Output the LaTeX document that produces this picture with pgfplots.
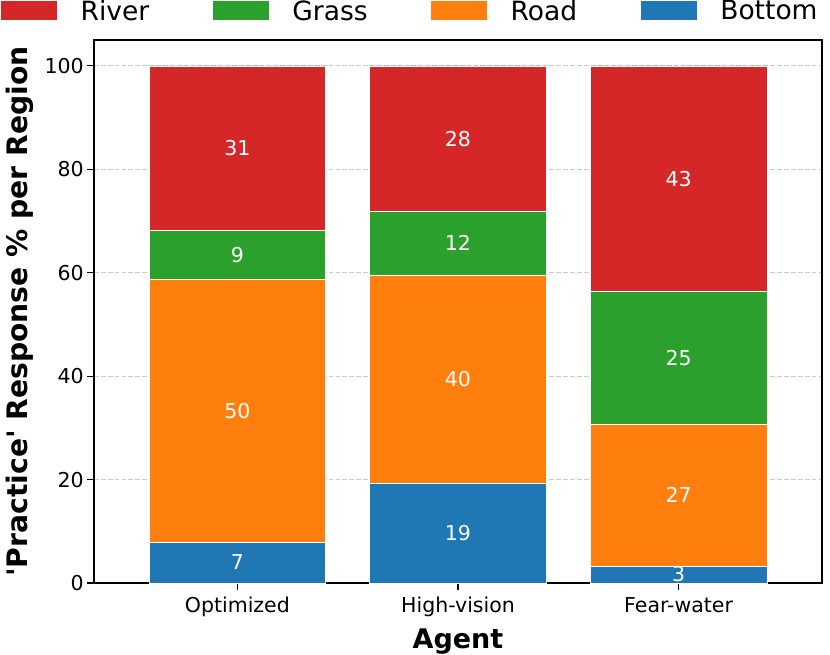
\documentclass[border=0pt]{standalone}
\usepackage{fontspec}
\setmainfont{DejaVu Sans}[Ligatures=TeXOff]
\usepackage{pgfplots}
\pgfplotsset{compat=1.18}
\usepackage{pgfplotstable}

\definecolor{cRiver}{HTML}{D62728}
\definecolor{cGrass}{HTML}{2CA02C}
\definecolor{cRoad}{HTML}{FF7F0E}
\definecolor{cBottom}{HTML}{1F77B4}
\definecolor{cGrid}{HTML}{CCCCCC}

\pgfplotstableread{
x bottom road grass river
0 7.92 50.71 9.57 31.80
1 19.31 40.28 12.22 28.19
2 3.28 27.36 25.73 43.63
}\bardata

\pgfplotstableread{
x y l
0 3.96 7
0 33.28 50
0 63.42 9
0 84.10 31
1 9.655 19
1 39.45 40
1 65.70 12
1 85.91 28
2 1.64 3
2 16.96 27
2 43.51 25
2 78.19 43
}\labdata

\pgfplotsset{
  common/.style={
    at={(0,0)}, anchor=south west,
    scale only axis, width=728bp, height=543bp,
    xmin=-0.65, xmax=2.65, ymin=0, ymax=105,
  }
}

\begin{document}
\begin{tikzpicture}
\useasboundingbox (-94bp,-72bp) rectangle (736bp,583bp);
\begin{axis}[
  common,
  ybar stacked, bar width=0.8,
  xtick={0,1,2}, xticklabels={Optimized,High-vision,Fear-water},
  ytick={0,20,40,60,80,100},
  tick pos=left, tick align=outside,
  major tick length=6.7bp,
  tick style={black, line width=1.1bp},
  axis line style={black, line width=1.3bp},
  ymajorgrids,
  grid style={cGrid, line width=1bp, dash pattern=on 4.8bp off 2.1bp},
  tick label style={font=\fontsize{20.5bp}{24bp}\selectfont},
  xticklabel style={yshift=-4bp},
  /pgf/number format/assume math mode=true,
  xlabel={Agent},
  ylabel={'Practice' Response \% per Region},
  xlabel style={font=\bfseries\fontsize{27bp}{32bp}\selectfont,
    at={(axis description cs:0.5,-0.1197)}, anchor=base},
  ylabel style={font=\bfseries\fontsize{28.2bp}{33bp}\selectfont,
    at={(axis description cs:-0.0920,0.5)}, anchor=base},
  reverse legend,
  legend columns=4,
  legend image code/.code={\fill[#1] (0bp,-9.5bp) rectangle (57bp,10.5bp);},
  legend style={draw=none, fill=none, inner sep=0pt, outer sep=0pt,
    at={(-0.12912,1.0733)}, anchor=north west,
    nodes={inner sep=0pt, outer sep=0pt},
    font=\fontsize{26.5bp}{30bp}\selectfont,
    /tikz/every odd column/.append style={column sep=23bp},
    /tikz/every even column/.append style={column sep=62.5bp},
  },
]
\addplot[fill=cBottom, draw=white, line width=0.6bp] table[x=x, y=bottom] {\bardata};
\addplot[fill=cRoad, draw=white, line width=0.6bp] table[x=x, y=road] {\bardata};
\addplot[fill=cGrass, draw=white, line width=0.6bp] table[x=x, y=grass] {\bardata};
\addplot[fill=cRiver, draw=white, line width=0.6bp] table[x=x, y=river] {\bardata};
\legend{Bottom,Road,Grass,River}
\end{axis}
\begin{axis}[common, hide axis]
\addplot[draw=none, mark=none, nodes near coords, point meta=explicit symbolic,
  nodes near coords style={white, anchor=center, font=\fontsize{20.5bp}{24bp}\selectfont}]
  table[x=x, y=y, meta=l] {\labdata};
\end{axis}
\end{tikzpicture}
\end{document}
